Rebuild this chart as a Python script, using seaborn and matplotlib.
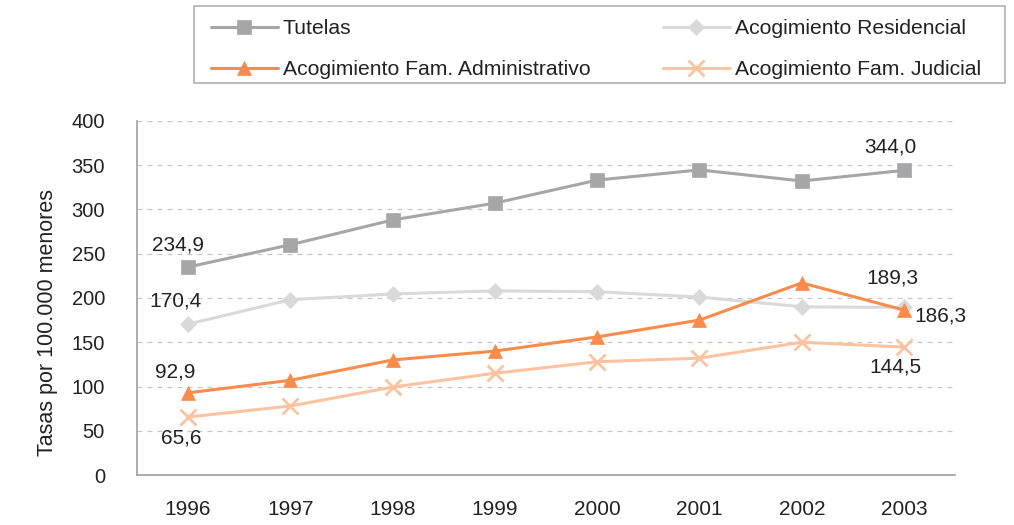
import matplotlib
matplotlib.use("Agg")
import matplotlib.pyplot as plt
from matplotlib.patches import Rectangle
import seaborn as sns
import pandas as pd

years = ["1996", "1997", "1998", "1999", "2000", "2001", "2002", "2003"]
tutelas = [234.9, 260, 288, 307, 333, 344.5, 332, 344.0]
residencial = [170.4, 198, 204.5, 208, 207, 201, 190, 189.3]
administrativo = [92.9, 107, 130, 140, 156, 175, 217, 186.3]
judicial = [65.6, 78, 99.4, 115, 128, 132, 150, 144.5]

series_names = ["Tutelas", "Acogimiento Residencial",
                "Acogimiento Fam. Administrativo", "Acogimiento Fam. Judicial"]
colors = {"Tutelas": "#A6A6A8", "Acogimiento Residencial": "#D9D9D9",
          "Acogimiento Fam. Administrativo": "#F98B4B",
          "Acogimiento Fam. Judicial": "#FDC3A0"}
markers = {"Tutelas": "s", "Acogimiento Residencial": "D",
           "Acogimiento Fam. Administrativo": "^", "Acogimiento Fam. Judicial": "x"}

rows = []
for name, vals in zip(series_names, [tutelas, residencial, administrativo, judicial]):
    for i, v in enumerate(vals):
        rows.append({"pos": i, "valor": v, "serie": name})
df = pd.DataFrame(rows)

sns.set_style("white")
plt.rcParams['font.family'] = ['Liberation Sans', 'DejaVu Sans']

fig = plt.figure(figsize=(10.14, 5.25), dpi=100)
ax = fig.add_axes([0.135, 0.095, 0.807, 0.675])

for name in series_names:
    sub = df[df["serie"] == name]
    ms = {"s": 10, "D": 8, "^": 10, "x": 11}[markers[name]]
    sns.lineplot(data=sub, x="pos", y="valor", ax=ax, color=colors[name],
                 marker=markers[name], markersize=ms, linewidth=2.2,
                 markeredgecolor=colors[name], markeredgewidth=2 if markers[name] == "x" else 0.5,
                 label=name)

ax.set_ylim(0, 400)
ax.set_yticks(range(0, 401, 50))
ax.set_xlim(-0.5, 7.5)
ax.set_xticks([i - 0.5 for i in range(9)])
ax.set_xticklabels([])
ax.set_xticks(range(8), minor=True)
ax.set_xticklabels(years, minor=True)
ax.tick_params(axis="x", which="minor", length=0, pad=18, labelsize=15, labelcolor="#222222")
ax.tick_params(axis="x", which="major", length=7, color="#A0A0A0", direction="out")
ax.tick_params(axis="y", length=5, color="#A0A0A0", direction="out", labelsize=14.5, pad=18,
               labelcolor="#222222")
ax.yaxis.grid(True, linestyle=(0, (4, 4)), color="#C8C8C8", linewidth=0.9)
ax.set_axisbelow(True)
for s in ["top", "right"]:
    ax.spines[s].set_visible(False)
for s in ["left", "bottom"]:
    ax.spines[s].set_color("#A0A0A0")
    ax.spines[s].set_linewidth(1.2)
ax.set_xlabel("")
ax.set_ylabel("Tasas por 100.000 menores", fontsize=15.5, color="#222222")
ax.yaxis.set_label_coords(-0.097, 0.43)

# etiquetas de datos
lab = dict(fontsize=15, color="#222222", textcoords="offset points", ha="center", va="center")
ax.annotate("234,9", (0, tutelas[0]), xytext=(-7, 16), **lab)
ax.annotate("170,4", (0, residencial[0]), xytext=(-9, 16.5), **lab)
ax.annotate("92,9", (0, administrativo[0]), xytext=(-9.5, 15), **lab)
ax.annotate("65,6", (0, judicial[0]), xytext=(-5, -15), **lab)
ax.annotate("344,0", (7, tutelas[7]), xytext=(-10, 17), **lab)
ax.annotate("189,3", (7, residencial[7]), xytext=(-8, 21.5), **lab)
ax.annotate("186,3", (7, administrativo[7]), xytext=(26.5, -4), **lab)
ax.annotate("144,5", (7, judicial[7]), xytext=(-6.5, -14), **lab)

handles, labels = ax.get_legend_handles_labels()
ax.get_legend().remove()
order = [0, 2, 1, 3]
leg = fig.legend([handles[i] for i in order], [labels[i] for i in order],
                 loc="upper left", bbox_to_anchor=(211 / 1014, 1 - 19 / 525),
                 ncol=2, fontsize=15.2, frameon=False, handlelength=3.15,
                 handletextpad=0.25, borderaxespad=0, borderpad=0,
                 labelspacing=1.04, columnspacing=3.45)
for t in leg.get_texts():
    t.set_color("#222222")
fig.patches.append(Rectangle((194 / 1014, 1 - 83 / 525), 811 / 1014, 77 / 525,
                             transform=fig.transFigure, fill=False,
                             edgecolor="#B0B0B0", linewidth=1.2))

fig.savefig("out.png", dpi=100)
